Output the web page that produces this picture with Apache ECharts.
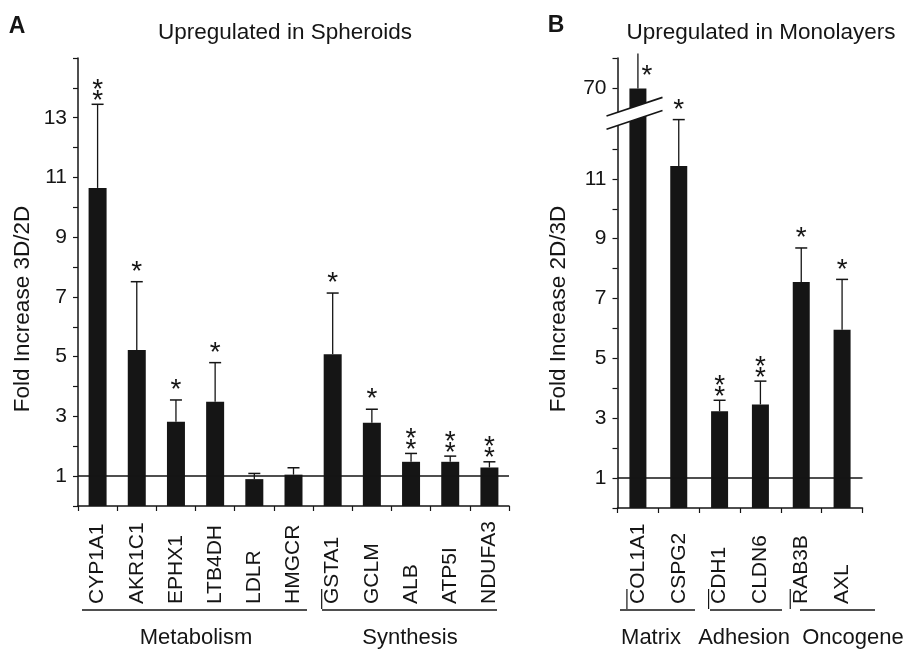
<!DOCTYPE html>
<html>
<head>
<meta charset="utf-8">
<script src="https://cdn.jsdelivr.net/npm/echarts@6/dist/echarts.min.js"></script>
<style>
  html, body { margin: 0; padding: 0; background: #fff; }
  #main { width: 907px; height: 650px; }
</style>
</head>
<body>
<div id="main"></div>
<script>
// ---- data (panel A: up in spheroids, panel B: up in monolayers) ----
var catsA = ['CYP1A1', 'AKR1C1', 'EPHX1', 'LTB4DH', 'LDLR', 'HMGCR', 'GSTA1', 'GCLM', 'ALB', 'ATP5I', 'NDUFA3'];
var foldA = [10.65, 5.22, 2.82, 3.49, 0.90, 1.05, 5.08, 2.79, 1.48, 1.48, 1.29];
var errA = [2.80, 2.29, 0.73, 1.31, 0.19, 0.23, 2.05, 0.45, 0.28, 0.19, 0.19];
var sigA = ['**', '*', '*', '*', '', '', '*', '*', '**', '**', '**'];
var groupsA = ['Metabolism', 'Synthesis'];
var groupStartA = [0, 6];

var catsB = ['COL1A1', 'CSPG2', 'CDH1', 'CLDN6', 'RAB3B', 'AXL'];
var foldB = [70, 11.43, 3.23, 3.46, 7.55, 5.96];
var errB = [2.3, 1.55, 0.37, 0.78, 1.14, 1.68];
var sigB = ['*', '*', '**', '**', '*', '*'];
var groupsB = ['Matrix', 'Adhesion', 'Oncogene'];
var groupStartB = [0, 2, 4];

var ticksA = [1, 3, 5, 7, 9, 11, 13];
var ticksB = [1, 3, 5, 7, 9, 11];
var ticksBTop = [70];

// ---- layout ----
var FONT = 'Liberation Sans, Arial, sans-serif';
var INK = '#151515';
var aLeft = 78, aRight = 509, aTop = 58, aBottom = 506;
var bLeft = 617.5, bRight = 862.5, bTop = 58, bBreak = 119, bBottom = 508;
var bUpperMin = 68, bUpperMax = 72, bLowerMax = 13;

var chart = echarts.init(document.getElementById('main'));

function labelFmt(list) {
    return function (v) { return list.indexOf(v) >= 0 ? String(v) : ''; };
}

function errorItem(params, api) {
    var p0 = api.coord([api.value(0), api.value(1)]);
    var p1 = api.coord([api.value(0), api.value(1) + api.value(2)]);
    var kids = [{
        type: 'line',
        shape: { x1: p0[0], y1: p0[1], x2: p1[0], y2: p1[1] },
        style: { stroke: INK, lineWidth: 1.3 }
    }];
    if (p1[1] >= params.coordSys.y) {
        kids.push({
            type: 'line',
            shape: { x1: p1[0] - 6, y1: p1[1], x2: p1[0] + 6, y2: p1[1] },
            style: { stroke: INK, lineWidth: 1.5 }
        });
    }
    return { type: 'group', children: kids };
}

function starRenderer(sig) {
    var fs = 28;
    function star(x, cy) {
        return {
            type: 'text',
            style: {
                text: '*', x: x, y: cy + 0.23 * fs, align: 'center', verticalAlign: 'middle',
                fontSize: fs, fontFamily: FONT, fill: INK
            }
        };
    }
    return function (params, api) {
        var i = api.value(0);
        var s = sig[i];
        if (!s) return null;
        var p1 = api.coord([i, api.value(1) + api.value(2)]);
        var kids = [];
        if (p1[1] < params.coordSys.y) {
            // error bar runs off the top: star sits beside it
            kids.push(star(p1[0] + 9, params.coordSys.y + 12));
        } else if (s.length === 2) {
            kids.push(star(p1[0], p1[1] - 9.5));
            kids.push(star(p1[0], p1[1] - 20.5));
        } else {
            kids.push(star(p1[0], p1[1] - 16));
        }
        return { type: 'group', children: kids };
    };
}

function triples(vals, errs) {
    return vals.map(function (v, i) { return [i, v, errs[i]]; });
}

var refLine = {
    silent: true,
    symbol: ['none', 'none'],
    label: { show: false },
    lineStyle: { color: INK, width: 1.5, type: 'solid' },
    data: [{ yAxis: 1 }]
};

var catAxis = function (grid, cats, margin) {
    return {
        type: 'category', gridIndex: grid, data: cats,
        axisLine: { lineStyle: { color: INK, width: 1.5 } },
        axisTick: { show: true, length: 5, lineStyle: { color: INK, width: 1.2 } },
        axisLabel: {
            interval: 0, rotate: 90, align: 'left', margin: margin,
            padding: [9, 0, 0, 0],
            fontSize: 21, fontFamily: FONT, color: INK
        }
    };
};

var valAxis = function (grid, min, max, interval, labels) {
    return {
        type: 'value', gridIndex: grid, min: min, max: max, interval: interval,
        splitLine: { show: false },
        axisLine: { show: true, lineStyle: { color: INK, width: 1.5 } },
        axisTick: { show: true, length: 5, lineStyle: { color: INK, width: 1.2 } },
        axisLabel: { formatter: labelFmt(labels), margin: 11, fontSize: 21, fontFamily: FONT, color: INK }
    };
};

var upperB = triples(foldB, errB).filter(function (d) { return d[1] > bUpperMin; });
var lowerB = triples(foldB, errB).filter(function (d) { return d[1] <= bLowerMax; });

option = {
    animation: false,
    backgroundColor: '#fff',
    grid: [
        { left: aLeft, right: 907 - aRight, top: aTop, bottom: 650 - aBottom },
        { left: bLeft, right: 907 - bRight, top: bTop, bottom: 650 - bBreak },
        { left: bLeft, right: 907 - bRight, top: bBreak, bottom: 650 - bBottom }
    ],
    xAxis: [
        catAxis(0, catsA, 98),
        { type: 'category', gridIndex: 1, data: catsB, show: false },
        catAxis(2, catsB, 96)
    ],
    yAxis: [
        valAxis(0, 0, 15, 1, ticksA),
        valAxis(1, bUpperMin, bUpperMax, 2, ticksBTop),
        valAxis(2, 0, bLowerMax, 1, ticksB)
    ],
    series: [
        {
            type: 'bar', xAxisIndex: 0, yAxisIndex: 0, data: foldA, barWidth: 18,
            itemStyle: { color: INK }, markLine: refLine, z: 2
        },
        {
            type: 'custom', xAxisIndex: 0, yAxisIndex: 0, data: triples(foldA, errA),
            renderItem: errorItem, z: 3
        },
        {
            type: 'custom', xAxisIndex: 0, yAxisIndex: 0, data: triples(foldA, errA),
            renderItem: starRenderer(sigA), z: 3
        },
        {
            type: 'bar', xAxisIndex: 1, yAxisIndex: 1, barWidth: 17,
            data: foldB.map(function (v) { return v > bUpperMin ? v : '-'; }),
            itemStyle: { color: INK }, z: 2
        },
        { type: 'custom', xAxisIndex: 1, yAxisIndex: 1, data: upperB, renderItem: errorItem, z: 3 },
        { type: 'custom', xAxisIndex: 1, yAxisIndex: 1, data: upperB, renderItem: starRenderer(sigB), z: 3 },
        {
            type: 'bar', xAxisIndex: 2, yAxisIndex: 2, data: foldB, barWidth: 17,
            itemStyle: { color: INK }, markLine: refLine, z: 2
        },
        { type: 'custom', xAxisIndex: 2, yAxisIndex: 2, data: lowerB, renderItem: errorItem, z: 3 },
        { type: 'custom', xAxisIndex: 2, yAxisIndex: 2, data: lowerB, renderItem: starRenderer(sigB), z: 3 }
    ]
};
chart.setOption(option);

// ---- annotations: titles, axis names, group brackets, axis break ----
var txt = function (s, x, y, opts) {
    return {
        type: 'text', x: x, y: y, rotation: opts && opts.rot || 0, z: 20,
        style: {
            text: s, align: 'center', verticalAlign: 'middle',
            fontSize: opts && opts.size || 22.5, fontFamily: FONT,
            fontWeight: opts && opts.bold ? 'bold' : 'normal', fill: INK
        }
    };
};
var seg = function (x1, y1, x2, y2, w) {
    return { type: 'line', z: 20, shape: { x1: x1, y1: y1, x2: x2, y2: y2 }, style: { stroke: INK, lineWidth: w || 1.6 } };
};

var g = [];
g.push(txt('A', 17, 27, { bold: true, size: 23 }));
g.push(txt('B', 556, 26, { bold: true, size: 23 }));
g.push(txt('Upregulated in Spheroids', 285, 33));
g.push(txt('Upregulated in Monolayers', 761, 33));
g.push(txt('Fold Increase 3D/2D', 23, 309, { rot: Math.PI / 2 }));
g.push(txt('Fold Increase 2D/3D', 559, 309, { rot: Math.PI / 2 }));

// group brackets below the gene names; a short tick marks the first gene of a group
var lineY = 610, groupY = 638;
var linesA = [[82, 307], [322, 497]], labelXA = [196, 410];
var linesB = [[620, 695], [710, 782], [800, 875]], labelXB = [651, 744, 853];
function firstTick(axisIdx, cat) {
    var p = chart.convertToPixel({ xAxisIndex: axisIdx, yAxisIndex: axisIdx }, [cat, 0]);
    return seg(p[0] - 11, lineY - 1, p[0] - 11, lineY - 21, 1.2);
}
groupsA.forEach(function (name, k) {
    g.push(seg(linesA[k][0], lineY, linesA[k][1], lineY));
    if (k > 0) g.push(firstTick(0, groupStartA[k]));
    g.push(txt(name, labelXA[k], groupY, { size: 22 }));
});
groupsB.forEach(function (name, k) {
    g.push(seg(linesB[k][0], lineY, linesB[k][1], lineY));
    g.push(firstTick(2, groupStartB[k]));
    g.push(txt(name, labelXB[k], groupY, { size: 22 }));
});

// axis break: white band between two slanted lines
var slope = 0.334, half = 6.6, bx0 = bLeft - 11, bx1 = bLeft + 45;
var yAt = function (x, off) { return bBreak + off - (x - bLeft) * slope; };
g.push({
    type: 'polygon', z: 15,
    shape: { points: [[bx0, yAt(bx0, -half)], [bx1, yAt(bx1, -half)], [bx1, yAt(bx1, half)], [bx0, yAt(bx0, half)]] },
    style: { fill: '#fff' }
});
g.push(seg(bx0, yAt(bx0, -half), bx1, yAt(bx1, -half), 1.6));
g.push(seg(bx0, yAt(bx0, half), bx1, yAt(bx1, half), 1.6));

chart.setOption({ graphic: g });
</script>
</body>
</html>
